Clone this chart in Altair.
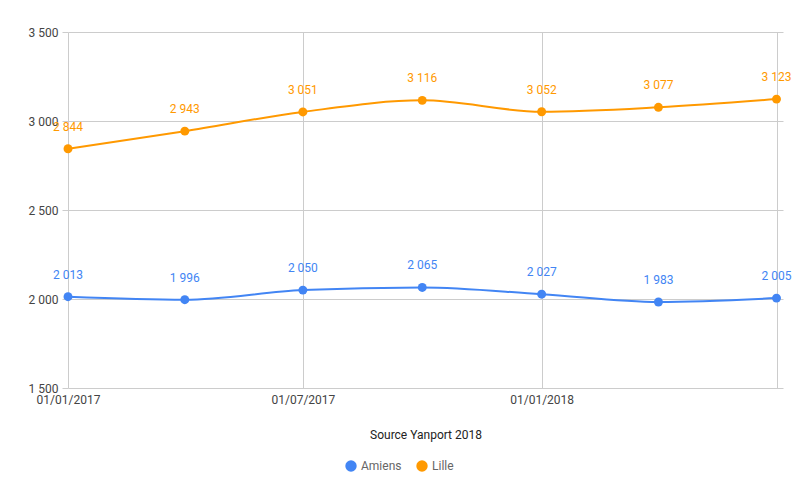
import altair as alt
import pandas as pd

dates = ["2017-01-01T00:00:00", "2017-04-01T00:00:00", "2017-07-01T00:00:00",
         "2017-10-01T00:00:00", "2018-01-01T00:00:00", "2018-04-01T00:00:00",
         "2018-07-01T00:00:00"]
amiens = [2013, 1996, 2050, 2065, 2027, 1983, 2005]
lille = [2844, 2943, 3051, 3116, 3052, 3077, 3123]
series = ["Amiens", "Lille"]
colors = ["#4285F4", "#FF9900"]
y_ticks = [1500, 2000, 2500, 3000, 3500]

rows = []
for d, a, l in zip(dates, amiens, lille):
    rows.append({"date": d, "ville": "Amiens", "value": a})
    rows.append({"date": d, "ville": "Lille", "value": l})
df = pd.DataFrame(rows)

FONT = "Roboto"

x_enc = alt.X(
    "date:T",
    scale=alt.Scale(domain=[alt.DateTime(year=2017, month=1, date=1),
                            alt.DateTime(year=2018, month=7, date=6)]),
    axis=alt.Axis(
        values=[alt.DateTime(year=2017, month=1, date=1),
                alt.DateTime(year=2017, month=7, date=1),
                alt.DateTime(year=2018, month=1, date=1),
                alt.DateTime(year=2018, month=7, date=1)],
        labelExpr="(month(datum.value) == 6 && year(datum.value) == 2018) ? '' : timeFormat(datum.value, '%d/%m/%Y')",
        title="Source Yanport 2018",
        titleFont=FONT, titleFontSize=12, titleFontWeight="normal", titleColor="#222222",
        titlePadding=24,
        labelFont=FONT, labelFontSize=12, labelColor="#444444", labelPadding=6,
        ticks=False, domain=False, grid=True, gridColor="#cccccc",
        labelOverlap=False, labelFlush=False,
    ),
)
y_enc = alt.Y(
    "value:Q",
    scale=alt.Scale(domain=[1500, 3500], nice=False, zero=False),
    axis=alt.Axis(
        values=y_ticks,
        labelExpr="replace(format(datum.value, ','), ',', ' ')",
        title=None,
        labelFont=FONT, labelFontSize=12, labelColor="#444444", labelPadding=4,
        ticks=True, tickSize=6, tickColor="#cccccc",
        domain=False, grid=True, gridColor="#cccccc",
    ),
)
color_enc = alt.Color(
    "ville:N",
    scale=alt.Scale(domain=series, range=colors),
    legend=alt.Legend(
        title=None, orient="none", direction="horizontal",
        legendX=277, legendY=428,
        symbolType="circle", symbolSize=130, symbolStrokeWidth=0,
        labelFont=FONT, labelFontSize=12, labelColor="#666666",
        columnPadding=14,
    ),
)

base = alt.Chart(df).encode(x=x_enc, y=y_enc, color=color_enc)

line = base.mark_line(interpolate="monotone", strokeWidth=2)
points = base.mark_point(filled=True, size=80, opacity=1)
labels = base.transform_calculate(
    lbl="replace(format(datum.value, ','), ',', ' ')"
).mark_text(dy=-22, font=FONT, fontSize=12).encode(text="lbl:N")

chart = alt.layer(line, points, labels).properties(
    width=715, height=356,
    autosize=alt.AutoSizeParams(type="none"),
    padding={"left": 60, "top": 24, "right": 17, "bottom": 103},
).configure_view(stroke=None)

chart.save("out.html", embed_options={"renderer": "svg", "actions": False})
